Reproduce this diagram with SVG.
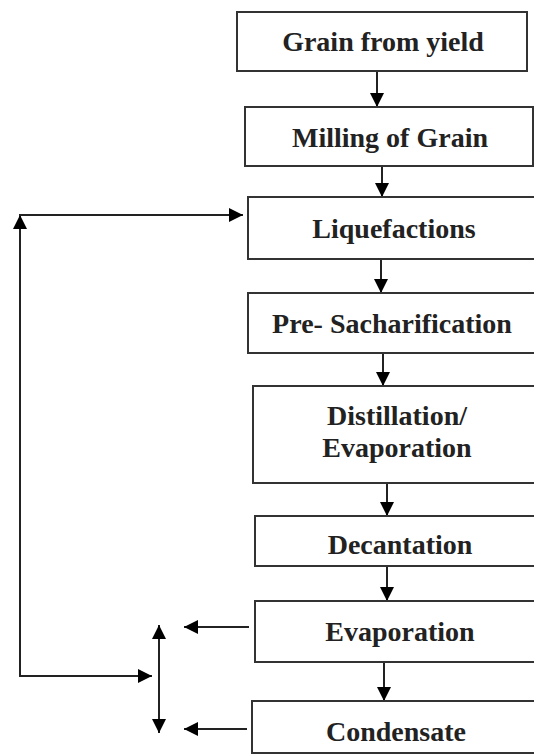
<svg xmlns="http://www.w3.org/2000/svg" width="534" height="756" viewBox="0 0 534 756">
<style>
.box{fill:#fff;stroke:#333;stroke-width:2}
.lbl{font-family:"Liberation Serif","Times New Roman",serif;font-weight:bold;font-size:28px;fill:#222;text-anchor:middle}
.con{fill:none;stroke:#222;stroke-width:2;marker-end:url(#ah)}
</style>
<defs>
<marker id="ah" viewBox="0 0 14 14" refX="14" refY="7" markerWidth="14" markerHeight="14" markerUnits="userSpaceOnUse" orient="auto-start-reverse">
<path d="M0,0 L14,7 L0,14 Z" fill="#000"/>
</marker>
</defs>
<rect width="534" height="756" fill="#fff"/>
<g id="connectors">
<line class="con" x1="377" y1="71" x2="377" y2="107"/>
<line class="con" x1="382" y1="166" x2="382" y2="197"/>
<line class="con" x1="381" y1="259" x2="381" y2="293"/>
<line class="con" x1="383" y1="353" x2="383" y2="386"/>
<line class="con" x1="387" y1="483" x2="387" y2="516"/>
<line class="con" x1="387" y1="566" x2="387" y2="601"/>
<line class="con" x1="384" y1="662" x2="384" y2="701"/>
<line class="con" x1="20" y1="676" x2="152" y2="676"/>
<line class="con" x1="20" y1="677" x2="20" y2="215"/>
<line class="con" x1="19" y1="215" x2="243" y2="215"/>
<line class="con" x1="159" y1="625" x2="159" y2="733" style="marker-start:url(#ah)"/>
<line class="con" x1="249" y1="627" x2="184" y2="627"/>
<line class="con" x1="247" y1="729" x2="184" y2="729"/>
</g>
<g id="grain">
<rect class="box" x="237" y="12" width="290" height="59"/>
<text class="lbl" x="383" y="51">Grain from yield</text>
</g>
<g id="milling">
<rect class="box" x="245" y="107" width="288" height="59"/>
<text class="lbl" x="390" y="147">Milling of Grain</text>
</g>
<g id="liquefactions">
<rect class="box" x="248" y="197" width="292" height="62"/>
<text class="lbl" x="394" y="238">Liquefactions</text>
</g>
<g id="presach">
<rect class="box" x="248" y="293" width="292" height="60"/>
<text class="lbl" x="392" y="333">Pre- Sacharification</text>
</g>
<g id="distillation">
<rect class="box" x="253" y="386" width="287" height="97"/>
<text class="lbl" x="397" y="425">Distillation/</text>
<text class="lbl" x="397" y="457">Evaporation</text>
</g>
<g id="decantation">
<rect class="box" x="255" y="516" width="285" height="50"/>
<text class="lbl" x="400" y="554">Decantation</text>
</g>
<g id="evaporation">
<rect class="box" x="255" y="601" width="285" height="61"/>
<text class="lbl" x="400" y="641">Evaporation</text>
</g>
<g id="condensate">
<rect class="box" x="252" y="701" width="288" height="52"/>
<text class="lbl" x="396" y="741">Condensate</text>
</g>
</svg>
